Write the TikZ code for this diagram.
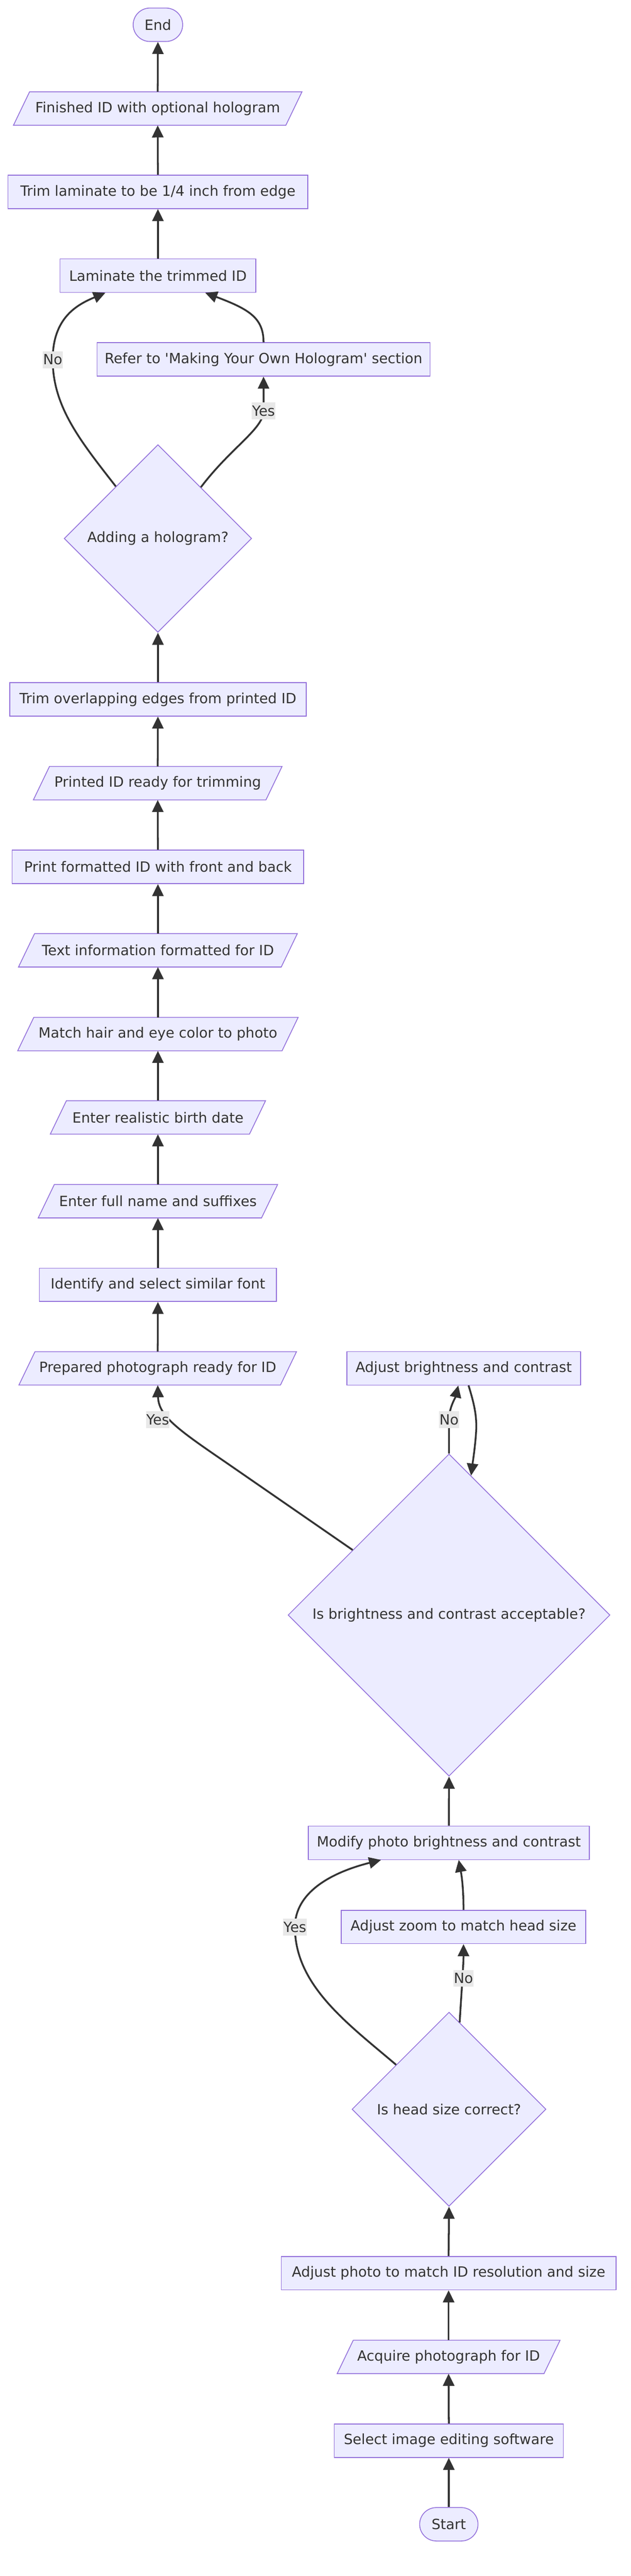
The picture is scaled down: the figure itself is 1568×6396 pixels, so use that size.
\documentclass[tikz,border=0pt]{standalone}
\usepackage{fontspec}
\setmainfont{DejaVu Sans}
\usetikzlibrary{shapes.geometric,arrows.meta}
\definecolor{nfill}{HTML}{ECECFF}
\definecolor{nstroke}{HTML}{9370DB}
\definecolor{ink}{HTML}{333333}
\definecolor{lblbg}{HTML}{E8E8E8}
\tikzset{
  base/.style={font=\fontsize{35}{42}\selectfont, text=ink, inner sep=0pt, minimum height=83pt},
  box/.style={base, draw=nstroke, fill=nfill, line width=2pt, rectangle},
  term/.style={base, draw=nstroke, fill=nfill, line width=2pt, rectangle, rounded corners=41.5pt},
  ptext/.style={base},
  pshape/.style={draw=nstroke, fill=nfill, line width=2pt},
  decision/.style={font=\fontsize{35}{42}\selectfont, text=ink, inner sep=0pt, draw=nstroke, fill=nfill, line width=2pt, diamond, aspect=1},
  flow/.style={draw=ink, line width=4.5pt, -{Triangle[length=30pt,width=28pt]}},
  lbl/.style={font=\fontsize{35}{42}\selectfont, text=ink, fill=lblbg, inner xsep=1pt, inner ysep=0pt, minimum height=42pt},
}
\newcommand{\pgnode}[5]{%
  \path[pshape] (#2-#4-20,#3+41.5) -- (#2+#4-20,#3+41.5) -- (#2+#4+20,#3-41.5) -- (#2-#4+20,#3-41.5) -- cycle;
  \node[ptext, minimum width=#4*2pt] (#1) at (#2,#3) {#5};
}
\begin{document}
\begin{tikzpicture}[x=1pt,y=-1pt]
\useasboundingbox (0,0) rectangle (1568,6396);
\fill[white] (0,0) rectangle (1568,6396);

% upper column
\node[term, minimum width=123pt] (endn) at (392.5,61.5) {End};
\pgnode{fin}{392}{269.5}{338.5}{Finished ID with optional hologram}
\node[box, minimum width=745pt] (trimlam) at (392.5,476.5) {Trim laminate to be 1/4 inch from edge};
\node[box, minimum width=487pt] (lam) at (392.5,684.5) {Laminate the trimmed ID};
\node[box, minimum width=828pt] (refer) at (655,892.5) {Refer to \textquotesingle Making Your Own Hologram\textquotesingle{} section};
\node[decision, minimum width=466pt, minimum height=466pt] (dia1) at (392.5,1337) {Adding a hologram?};
\node[box, minimum width=737pt] (tov) at (392.5,1736.5) {Trim overlapping edges from printed ID};
\pgnode{printed}{392}{1944.5}{289}{Printed ID ready for trimming}
\node[box, minimum width=725pt] (printf) at (392.5,2152.5) {Print formatted ID with front and back};
\pgnode{textinfo}{392.5}{2359.5}{326.5}{Text information formatted for ID}
\pgnode{match}{392.5}{2567.5}{328.5}{Match hair and eye color to photo}
\pgnode{realistic}{392.5}{2774.5}{247.5}{Enter realistic birth date}
\pgnode{fullname}{392.5}{2982.5}{277.5}{Enter full name and suffixes}
\node[box, minimum width=589pt] (identify) at (392.5,3190) {Identify and select similar font};
\pgnode{prep}{392}{3397.5}{325}{Prepared photograph ready for ID}

% lower column
\node[box, minimum width=581pt] (adjb) at (1152.5,3397.5) {Adjust brightness and contrast};
\node[decision, minimum width=800pt, minimum height=800pt] (dia2) at (1116,4010) {Is brightness and contrast acceptable?};
\node[box, minimum width=699pt] (mod) at (1115.5,4575.5) {Modify photo brightness and contrast};
\node[box, minimum width=608pt] (adjz) at (1152,4784.5) {Adjust zoom to match head size};
\node[decision, minimum width=482pt, minimum height=482pt] (dia3) at (1116,5237) {Is head size correct?};
\node[box, minimum width=832pt] (adjp) at (1115,5644) {Adjust photo to match ID resolution and size};
\pgnode{acq}{1115}{5852}{257}{Acquire photograph for ID}
\node[box, minimum width=569pt] (sel) at (1115.5,6060) {Select image editing software};
\node[term, minimum width=145pt] (startn) at (1115.5,6267.5) {Start};

% label positions
\coordinate (lno1) at (131,893);
\coordinate (lyes1) at (655,1020);
\coordinate (lyes2) at (392,3525);
\coordinate (lno2) at (1116,3525);
\coordinate (lyes3) at (733,4785);
\coordinate (lno3) at (1152,4912);

% straight edges
\draw[flow] (fin.north) -- (endn.south);
\draw[flow] (trimlam.north) -- (fin.south);
\draw[flow] (lam.north) -- (trimlam.south);
\draw[flow] (tov.north) -- (dia1.south);
\draw[flow] (printed.north) -- (tov.south);
\draw[flow] (printf.north) -- (printed.south);
\draw[flow] (textinfo.north) -- (printf.south);
\draw[flow] (match.north) -- (textinfo.south);
\draw[flow] (realistic.north) -- (match.south);
\draw[flow] (fullname.north) -- (realistic.south);
\draw[flow] (identify.north) -- (fullname.south);
\draw[flow] (prep.north) -- (identify.south);
\draw[flow] (mod.north) -- (dia2.south);
\draw[flow] (adjp.north) -- (dia3.south);
\draw[flow] (acq.north) -- (adjp.south);
\draw[flow] (sel.north) -- (acq.south);
\draw[flow] (startn.north) -- (sel.south);

% curved edges
\draw[flow] (dia1.129) .. controls (200,1095) and (131,1010) .. (lno1) .. controls (131,790) and (190,757) .. ([xshift=-130.5pt]lam.south);
\draw[flow] (dia1.50) .. controls (575,1110) and (655,1065) .. (lyes1) -- (refer.south);
\draw[flow] (refer.north) .. controls (655,790) and (620,768) .. ([xshift=117.5pt]lam.south);
\draw[flow] (dia2.146) -- (560,3630) .. controls (440,3548) and (394,3515) .. (prep.south);
\draw[flow] (dia2.north) -- (lno2) .. controls (1116,3495) and (1132,3470) .. ([xshift=-13.5pt]adjb.south);
\draw[flow] ([xshift=12pt]adjb.south) .. controls (1180,3490) and (1186,3520) .. (1183,3560) .. controls (1180,3600) and (1175,3630) .. (dia2.81);
\draw[flow] (dia3.140) .. controls (865,5025) and (733,4930) .. (lyes3) .. controls (733,4700) and (820,4650) .. ([xshift=-168.5pt]mod.south);
\draw[flow] (adjz.north) .. controls (1152,4680) and (1146,4650) .. ([xshift=24.5pt]mod.south);
\draw[flow] (dia3.83) .. controls (1146,4960) and (1152,4880) .. (adjz.south);

% labels
\node[lbl] (tno1) at (lno1) {No};
\node[lbl] (tyes1) at (lyes1) {Yes};
\node[lbl] (tyes2) at (lyes2) {Yes};
\node[lbl] (tno2) at (lno2) {No};
\node[lbl] (tyes3) at (lyes3) {Yes};
\node[lbl] (tno3) at (lno3) {No};
\end{tikzpicture}
\end{document}
